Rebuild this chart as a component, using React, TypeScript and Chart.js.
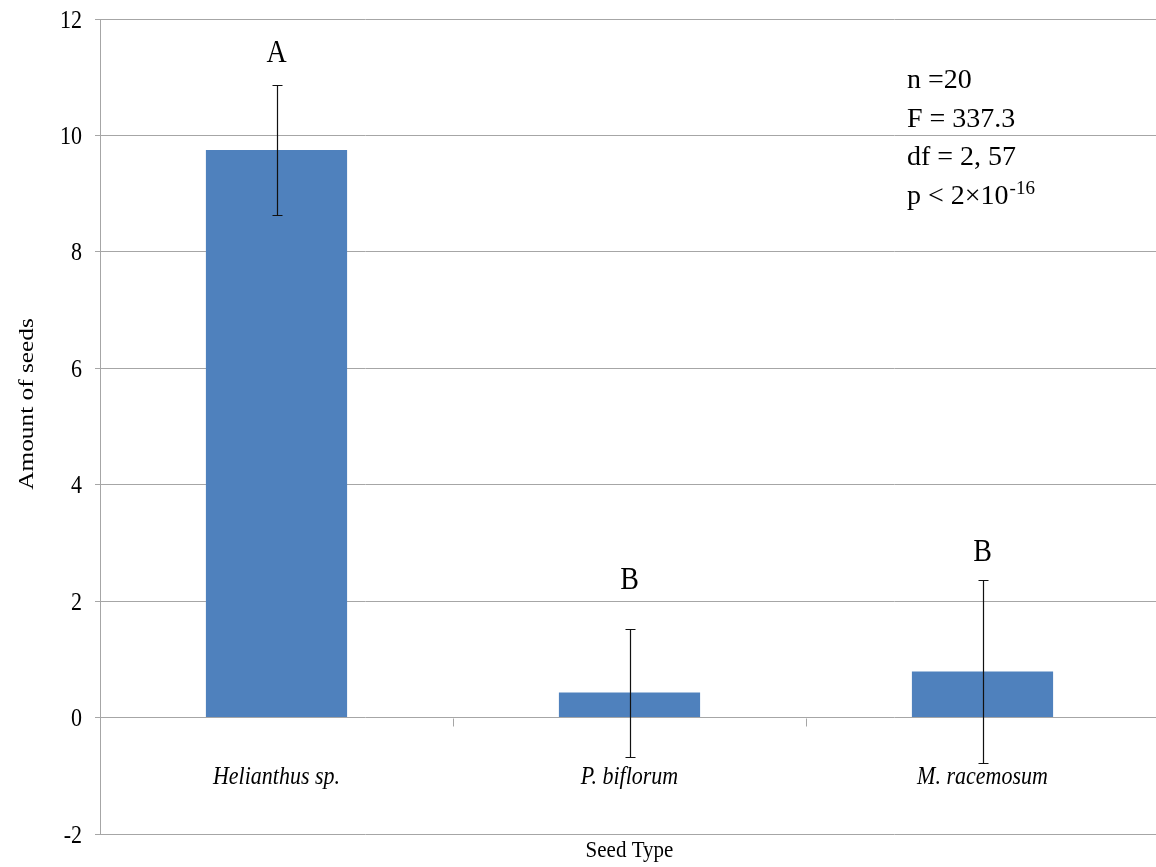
import React, { useEffect, useRef } from 'react';
import { Chart, registerables } from 'chart.js';

Chart.register(...registerables);

const categories = ['Helianthus sp.', 'P. biflorum', 'M. racemosum'];
const means = [9.75, 0.43, 0.79];
const errors = [1.12, 1.1, 1.57];
const letters = ['A', 'B', 'B'];
const letterY = [11.26, 2.21, 2.69];
const yMin = -2;
const yMax = 12;
const yStep = 2;
const statsLines = ['n =20', 'F = 337.3', 'df = 2, 57', 'p < 2×10'];
const statsSup = '-16';
const xTitle = 'Seed Type';
const yTitle = 'Amount of seeds';

const GRID = '#a6a6a6';
const FONT = '"Liberation Serif", "Times New Roman", serif';
const STRETCH = 1.15;

function stretchText(ctx: CanvasRenderingContext2D, text: string, x: number, y: number, sy = STRETCH) {
  ctx.save();
  ctx.translate(x, y);
  ctx.scale(1, sy);
  ctx.fillText(text, 0, 0);
  ctx.restore();
}

const overlay = {
  id: 'overlay',
  afterDatasetsDraw(chart: any) {
    const { ctx, chartArea, scales } = chart;
    const x = scales.x;
    const y = scales.y;
    ctx.save();
    const y0 = Math.round(y.getPixelForValue(0)) + 0.5;
    const step = x.getPixelForValue(1) - x.getPixelForValue(0);
    ctx.strokeStyle = GRID;
    ctx.lineWidth = 1;
    for (let i = 0; i <= categories.length; i++) {
      const px = Math.round(x.getPixelForValue(0) - step / 2 + i * step) + 0.5;
      ctx.beginPath();
      ctx.moveTo(px, y0);
      ctx.lineTo(px, y0 + 8);
      ctx.stroke();
    }
    // error bars
    ctx.strokeStyle = '#111';
    ctx.lineWidth = 1.2;
    means.forEach((m, i) => {
      const cx = Math.round(x.getPixelForValue(i)) + 0.5;
      const top = Math.round(y.getPixelForValue(m + errors[i])) + 0.5;
      const bot = Math.round(y.getPixelForValue(m - errors[i])) + 0.5;
      ctx.beginPath();
      ctx.moveTo(cx, top);
      ctx.lineTo(cx, bot);
      ctx.moveTo(cx - 5, top);
      ctx.lineTo(cx + 5, top);
      ctx.moveTo(cx - 5, bot);
      ctx.lineTo(cx + 5, bot);
      ctx.stroke();
    });
    ctx.fillStyle = '#000';
    ctx.textBaseline = 'alphabetic';
    // y tick labels
    ctx.font = `22px ${FONT}`;
    ctx.textAlign = 'right';
    y.ticks.forEach((t: any) => {
      const py = y.getPixelForValue(t.value);
      stretchText(ctx, String(t.value), 82, py + 8.5);
    });
    // letters
    ctx.font = `28px ${FONT}`;
    ctx.textAlign = 'center';
    letters.forEach((l, i) => {
      stretchText(ctx, l, x.getPixelForValue(i), y.getPixelForValue(letterY[i]));
    });
    // category labels
    ctx.font = `italic 22px ${FONT}`;
    categories.forEach((c, i) => {
      stretchText(ctx, c, x.getPixelForValue(i), y0 + 65);
    });
    // x title
    ctx.font = `21px ${FONT}`;
    stretchText(ctx, xTitle, (chartArea.left + chartArea.right) / 2, 857, 1.05);
    // y title
    ctx.save();
    ctx.font = `22px ${FONT}`;
    ctx.translate(33, 404);
    ctx.rotate(-Math.PI / 2);
    ctx.scale(STRETCH, 1);
    ctx.textAlign = 'center';
    ctx.fillText(yTitle, 0, 0);
    ctx.restore();
    // stats
    ctx.textAlign = 'left';
    const sx = 907;
    statsLines.forEach((s, i) => {
      const by = 88 + i * 38.5;
      ctx.font = `28px ${FONT}`;
      ctx.fillText(s, sx, by);
      if (i === statsLines.length - 1) {
        const w = ctx.measureText(s).width;
        ctx.font = `19px ${FONT}`;
        ctx.fillText(statsSup, sx + w + 1, by - 10);
      }
    });
    ctx.restore();
  },
};

export default function App() {
  const ref = useRef<HTMLCanvasElement>(null);
  useEffect(() => {
    if (!ref.current) return;
    const chart = new Chart(ref.current, {
      type: 'bar',
      data: {
        labels: categories,
        datasets: [
          {
            data: means,
            backgroundColor: '#4f81bd',
            borderWidth: 0,
            barPercentage: 0.4,
            categoryPercentage: 1,
          },
        ],
      },
      options: {
        responsive: false,
        animation: false,
        devicePixelRatio: 1,
        layout: { padding: { left: 0, top: 19, right: 1, bottom: 33 } },
        plugins: { legend: { display: false }, tooltip: { enabled: false } },
        scales: {
          x: { display: false },
          y: {
            min: yMin,
            max: yMax,
            afterFit: (s: any) => {
              s.width = 100;
              s.paddingTop = 0;
              s.paddingBottom = 0;
            },
            ticks: {
              stepSize: yStep,
              padding: 14,
              color: 'rgba(0,0,0,0)',
              font: { family: FONT, size: 22 },
            },
            grid: { color: GRID, tickLength: 5, lineWidth: 1 },
            border: { color: GRID },
          },
        },
      },
      plugins: [overlay],
    });
    return () => chart.destroy();
  }, []);
  return (
    <div style={{ position: 'absolute', left: 0, top: 0, width: 1156, height: 867, overflow: 'hidden', background: '#fff' }}>
      <canvas ref={ref} width={1160} height={867} style={{ display: 'block' }} />
    </div>
  );
}
